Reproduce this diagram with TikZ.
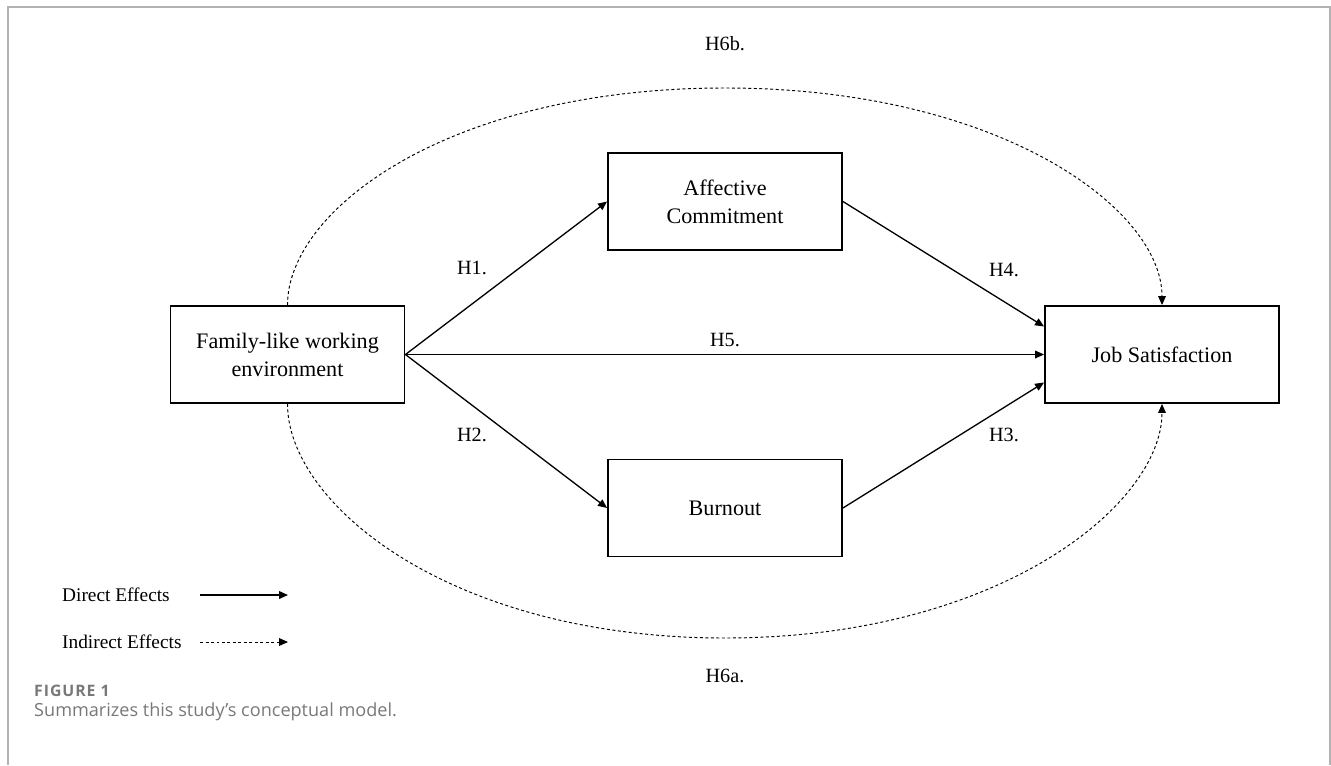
\documentclass[tikz,border=0pt]{standalone}
\usepackage{fontspec}
\setmainfont{Liberation Serif}
\newfontfamily\capfont{Open Sans}
\usepackage{xcolor}
\definecolor{capgray}{rgb}{0.47,0.47,0.47}
\definecolor{frmgray}{rgb}{0.7,0.7,0.7}
\usetikzlibrary{arrows.meta, positioning}

\begin{document}
\begin{tikzpicture}[
    x=0.02cm, y=-0.02cm,
    box/.style={draw, line width=1.1pt, minimum width=4.68cm, minimum height=1.94cm,
        align=center, font=\fontsize{12.6}{15.9}\selectfont},
    hyp/.style={font=\fontsize{11.5}{14}\selectfont},
    legtext/.style={font=\fontsize{11}{14}\selectfont, anchor=west},
    direct/.style={line width=0.75pt, -{Triangle[length=1.8mm, width=1.55mm]}},
    indirect/.style={line width=0.55pt, dash pattern=on 0.06cm off 0.05cm,
        -{Triangle[length=1.8mm, width=1.55mm]}}
    ]
    \useasboundingbox (0,0) rectangle (1331,765);
    % frame round the figure
    \draw[frmgray, line width=1.1pt] (8,765) -- (8,7) -- (1330,7) -- (1330,765);

    % constructs
    \node[box] (fam) at (287.5,354.5) {Family-like working\\environment};
    \node[box] (aff) at (725,201.5) {Affective\\Commitment};
    \node[box] (burn) at (725,508) {Burnout};
    \node[box] (job) at (1162,354.5) {Job Satisfaction};

    % direct effects
    \draw[direct] (fam.east) -- (aff.west);
    \draw[direct] (fam.east) -- (burn.west);
    \draw[direct] (fam.east) -- (job.west);
    \draw[direct] (aff.east) -- ([yshift=0.56cm]job.west);
    \draw[direct] (burn.east) -- ([yshift=-0.56cm]job.west);

    % indirect effects
    \coordinate (topmid) at (725,88);
    \coordinate (botmid) at (725,638);
    \draw[indirect] (fam.north) .. controls +(0,-96) and +(-275,0) .. (topmid)
        .. controls +(275,0) and +(0,-96) .. (job.north);
    \draw[indirect] (fam.south) .. controls +(0,100) and +(-275,0) .. (botmid)
        .. controls +(275,0) and +(0,100) .. (job.south);

    % hypotheses
    \node[hyp] (h1) at (472,268) {H1.};
    \node[hyp] (h2) at (472,435) {H2.};
    \node[hyp] (h5) at (725,340) {H5.};
    \node[hyp] (h4) at (1004,270) {H4.};
    \node[hyp] (h3) at (1004,435) {H3.};
    \node[hyp] (h6b) at (725,44) {H6b.};
    \node[hyp] (h6a) at (725,676) {H6a.};

    % legend
    \node[legtext] (dirtext) at (56,595) {Direct Effects};
    \node[legtext] (indtext) at (56,642) {Indirect Effects};
    \coordinate (dira) at (200,595);
    \coordinate (dirb) at (288,595);
    \coordinate (inda) at (200,642);
    \coordinate (indb) at (288,642);
    \draw[direct] (dira) -- (dirb);
    \draw[indirect] (inda) -- (indb);

    % caption
    \node[anchor=west, text=capgray, font=\capfont\bfseries\fontsize{9}{11}\selectfont\addfontfeature{LetterSpace=6}] (figno)
        at (28,691) {FIGURE 1};
    \node[anchor=west, text=capgray, font=\capfont\fontsize{10.3}{12}\selectfont] (captext)
        at (28,712) {Summarizes this study’s conceptual model.};
\end{tikzpicture}
\end{document}
